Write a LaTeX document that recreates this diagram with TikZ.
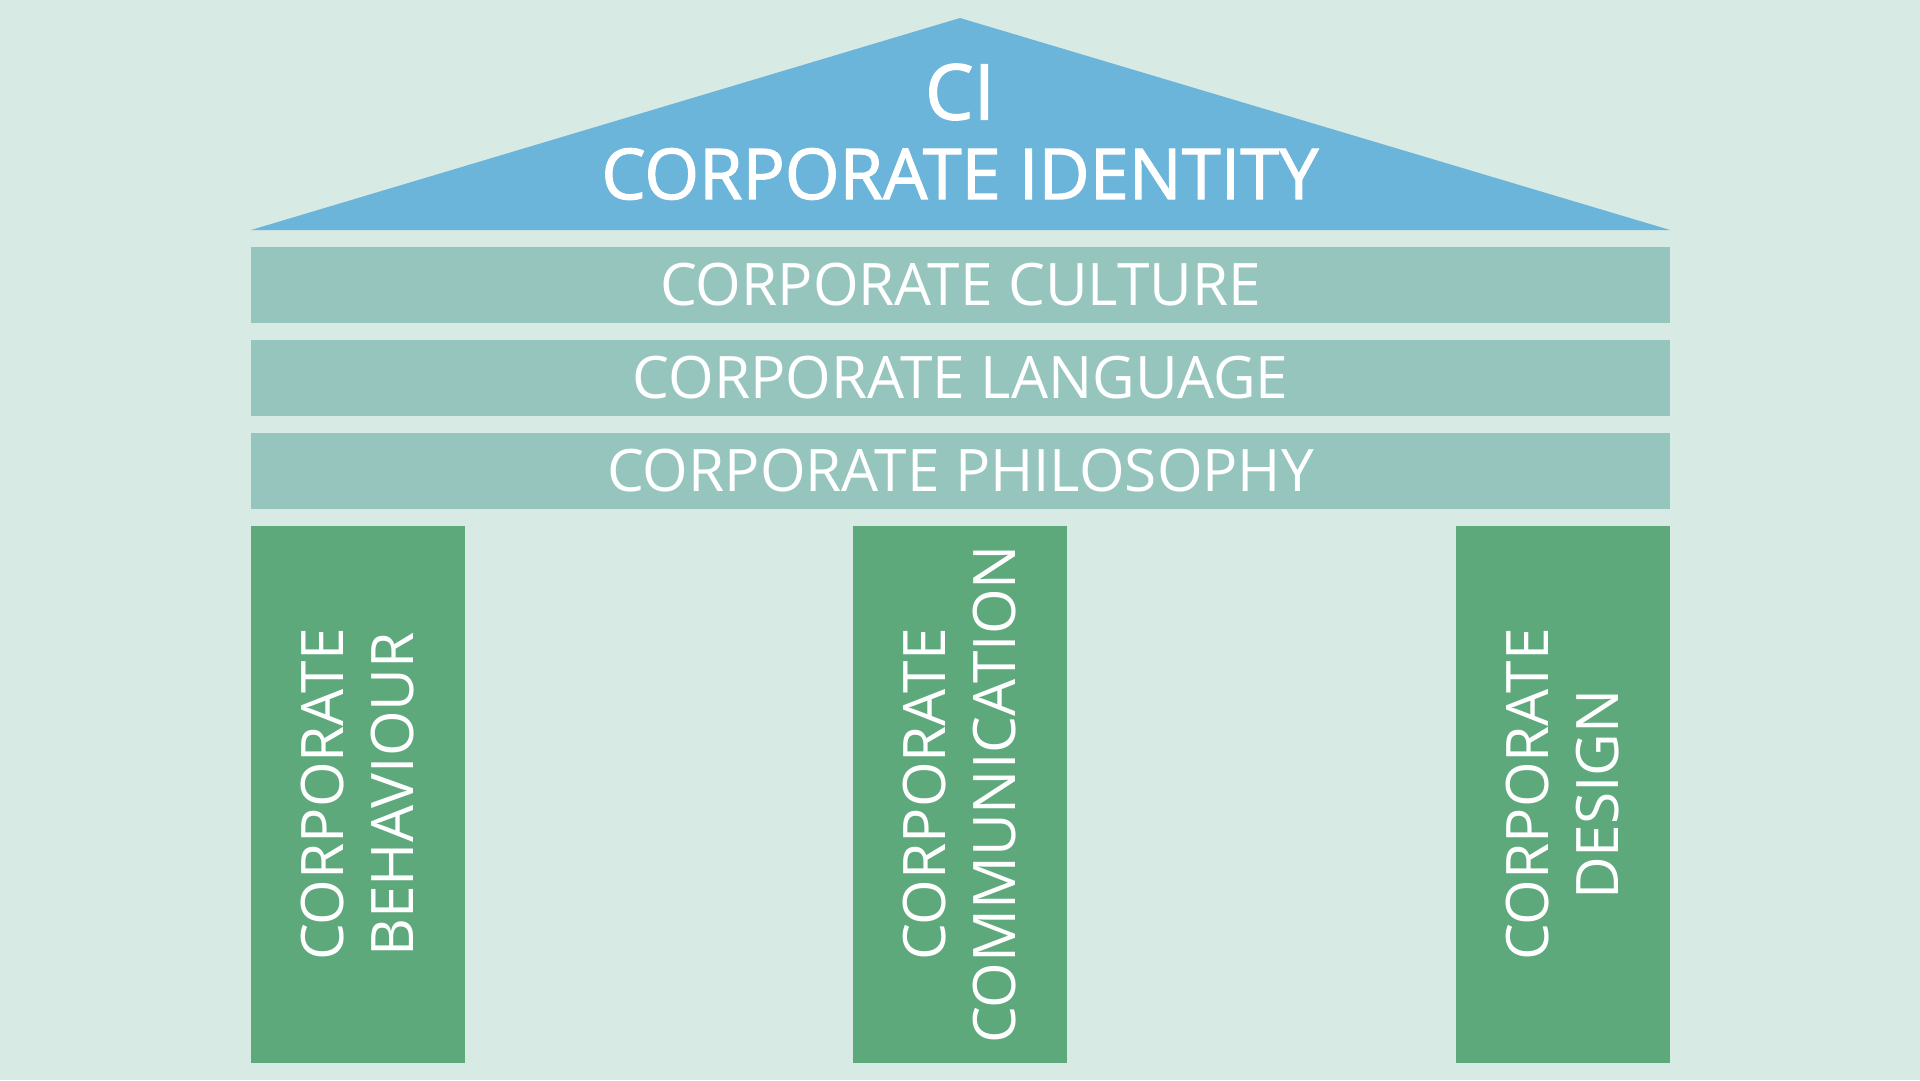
\documentclass[tikz,border=0pt]{standalone}
\usepackage{fontspec}
\setmainfont{Open Sans}
\newfontfamily\semib[FakeBold=1.6]{Open Sans}
\definecolor{bgc}{HTML}{D8EAE4}
\definecolor{roofc}{HTML}{6BB4DA}
\definecolor{barc}{HTML}{95C5BD}
\definecolor{pillc}{HTML}{5DA97B}
\begin{document}
\begin{tikzpicture}[x=1pt,y=-1pt,
  bar/.style={fill=barc, draw=none, minimum width=1419pt, minimum height=76pt, inner sep=0pt, text=white, font=\fontsize{58.6}{70}\selectfont},
  pillar/.style={fill=pillc, draw=none, minimum width=214pt, minimum height=537pt, inner sep=0pt},
  plabel/.style={rotate=90, align=center, text=white, inner sep=0pt, font=\fontsize{58.6}{70}\selectfont},
  title/.style={text=white, inner sep=0pt}
]
\fill[bgc] (0,0) rectangle (1920,1080);
\useasboundingbox (0,0) rectangle (1920,1080);
\fill[roofc] (251,230) -- (960,18) -- (1670,230) -- cycle;
\node[title, font=\semib\fontsize{77}{77}\selectfont] (ci) at (960,92) {CI};
\node[title, font=\semib\fontsize{70.3}{70.3}\selectfont] (cid) at (960,174) {CORPORATE IDENTITY};
\node[bar] (culture) at (960.5,285) {CORPORATE CULTURE};
\node[bar] (language) at (960.5,378) {CORPORATE LANGUAGE};
\node[bar] (philo) at (960.5,471) {CORPORATE PHILOSOPHY};
\node[pillar] (p1) at (358,794.5) {};
\node[pillar] (p2) at (960,794.5) {};
\node[pillar] (p3) at (1563,794.5) {};
\node[plabel] (t1) at (p1.center) {CORPORATE\\BEHAVIOUR};
\node[plabel] (t2) at (p2.center) {CORPORATE\\COMMUNICATION};
\node[plabel] (t3) at (p3.center) {CORPORATE\\DESIGN};
\end{tikzpicture}
\end{document}
